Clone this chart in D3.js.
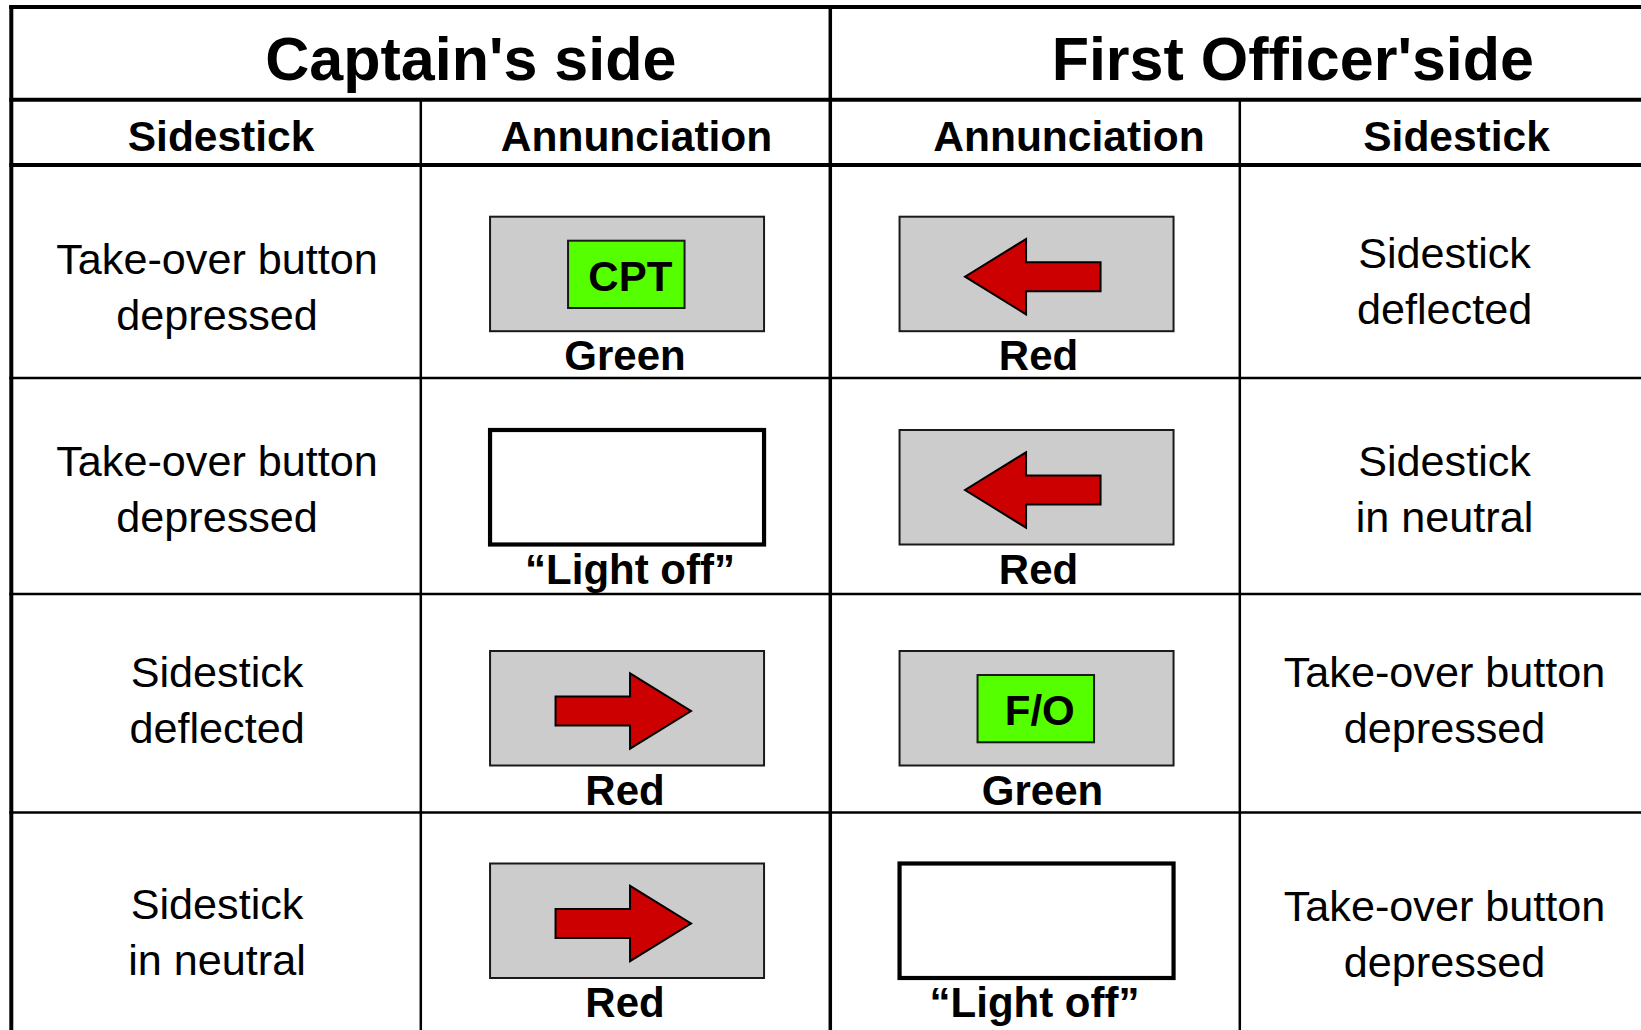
<!DOCTYPE html>
<html><head><meta charset="utf-8">
<script src="https://cdn.jsdelivr.net/npm/d3@7"></script>
<style>html,body{margin:0;padding:0;background:#fff;overflow:hidden}</style>
</head><body><svg id="c" width="1641" height="1030"></svg>
<script>
// ---- data ----
const sides = ["Captain's side", "First Officer'side"];
const columnHeaders = ["Sidestick", "Annunciation", "Annunciation", "Sidestick"];
const captainSidestick = [["Take-over button", "depressed"], ["Take-over button", "depressed"], ["Sidestick", "deflected"], ["Sidestick", "in neutral"]];
const captainLight = ["CPT", "off", "right", "right"];
const captainLabel = ["Green", "\u201CLight off\u201D", "Red", "Red"];
const foLight = ["left", "left", "F/O", "off"];
const foLabel = ["Red", "Red", "Green", "\u201CLight off\u201D"];
const foSidestick = [["Sidestick", "deflected"], ["Sidestick", "in neutral"], ["Take-over button", "depressed"], ["Take-over button", "depressed"]];

// ---- layout ----
const W = 1641, H = 1030;
const FONT = "'Liberation Sans', Arial, Helvetica, sans-serif";
const svg = d3.select("#c");
const x = d3.scaleLinear().domain([0, 4]).range([11.3, 1649.3]);
const yRow = d3.scaleLinear().domain([0, 1, 2, 3, 4]).range([165, 378, 594, 812.5, 1030]);
const yPanel = d3.scaleLinear().domain([0, 1, 2, 3]).range([216.7, 430, 651, 863.5]);
const yTextL = d3.scaleLinear().domain([0, 1, 2, 3]).range([274, 476, 687, 919]);
const yTextR = d3.scaleLinear().domain([0, 1, 2, 3]).range([268, 476, 687, 921]);
const lineGap = 55.5;
const PW = 274, PH = 114.5;
const labelDxCpt = [-2, 3, -2, -2];
const labelDxFo = [2, 2, 6, -2];

// ---- grid lines ----
const g = svg.append("g");
function hline(y, w, x1 = 9.3, x2 = W) {
  g.append("line").attr("x1", x1).attr("x2", x2).attr("y1", y).attr("y2", y)
    .attr("stroke", "#000").attr("stroke-width", w);
}
function vline(xx, w, y1, y2 = H) {
  g.append("line").attr("x1", xx).attr("x2", xx).attr("y1", y1).attr("y2", y2)
    .attr("stroke", "#000").attr("stroke-width", w);
}
hline(7, 4); hline(99.7, 4); hline(yRow(0), 4);
[1, 2, 3].forEach(i => hline(yRow(i), 2.5));
vline(x(0), 4, 5);
vline(x(2), 3.5, 5);
vline(x(1), 2.5, 99.7);
vline(x(3), 2.5, 99.7);

// ---- titles ----
const titleDx = 50;
sides.forEach((s, i) => {
  svg.append("text").attr("x", (x(i * 2) + x(i * 2 + 2)) / 2 + titleDx + (i ? 3 : 0)).attr("y", 80)
    .attr("text-anchor", "middle").attr("font-family", FONT).attr("font-weight", "bold")
    .attr("font-size", 61).text(s);
});
const headerDx = [5, 11, 34, 12];
columnHeaders.forEach((h, i) => {
  svg.append("text").attr("x", x(i + 0.5) + headerDx[i]).attr("y", 151)
    .attr("text-anchor", "middle").attr("font-family", FONT).attr("font-weight", "bold")
    .attr("font-size", 42.5).text(h);
});

// ---- sidestick descriptions ----
function lines(arr, col, yScale) {
  arr.forEach((pair, r) => {
    pair.forEach((t, k) => {
      svg.append("text").attr("x", x(col + 0.5) + (col === 0 ? 1 : 0)).attr("y", yScale(r) + k * lineGap)
        .attr("text-anchor", "middle").attr("font-family", FONT).attr("font-size", 43.2)
        .attr("fill", "#000").text(t);
    });
  });
}
lines(captainSidestick, 0, yTextL);
lines(foSidestick, 3, yTextR);

// ---- annunciator panels ----
function arrowPath(px, py, dir) {
  const a0 = px + 65.5, a1 = px + 201, head = 61, cy = py + 60, hh = 37.7, sh = 14.5;
  const p = d3.path();
  if (dir === "right") {
    const hb = a1 - head;
    p.moveTo(a0, cy - sh); p.lineTo(hb, cy - sh); p.lineTo(hb, cy - hh); p.lineTo(a1, cy);
    p.lineTo(hb, cy + hh); p.lineTo(hb, cy + sh); p.lineTo(a0, cy + sh); p.closePath();
  } else {
    const hb = a0 + head;
    p.moveTo(a1, cy - sh); p.lineTo(hb, cy - sh); p.lineTo(hb, cy - hh); p.lineTo(a0, cy);
    p.lineTo(hb, cy + hh); p.lineTo(hb, cy + sh); p.lineTo(a1, cy + sh); p.closePath();
  }
  return p.toString();
}
function panels(kinds, labels, col, dxs) {
  kinds.forEach((k, r) => {
    const px = x(col + 0.5) - 135.5, py = yPanel(r);
    const cx = px + PW / 2;
    if (k === "off") {
      svg.append("rect").attr("x", px).attr("y", py).attr("width", PW).attr("height", PH)
        .attr("fill", "#fff").attr("stroke", "#000").attr("stroke-width", 4.2);
    } else {
      svg.append("rect").attr("x", px).attr("y", py).attr("width", PW).attr("height", PH)
        .attr("fill", "#cccccc").attr("stroke", "#1a1a1a").attr("stroke-width", 2);
      if (k === "left" || k === "right") {
        svg.append("path").attr("d", arrowPath(px, py, k))
          .attr("fill", "#cc0000").attr("stroke", "#000").attr("stroke-width", 2)
          .attr("stroke-linejoin", "miter");
      } else {
        svg.append("rect").attr("x", px + 78).attr("y", py + 24).attr("width", 116.5).attr("height", 67.3)
          .attr("fill", "#55ff00").attr("stroke", "#1a1a1a").attr("stroke-width", 2);
        svg.append("text").attr("x", px + 78 + 116.5 / 2 + 4).attr("y", py + 24 + 50)
          .attr("text-anchor", "middle").attr("font-family", FONT).attr("font-weight", "bold")
          .attr("font-size", 42).text(k);
      }
    }
    svg.append("text").attr("x", cx + dxs[r]).attr("y", py + PH + 39)
      .attr("text-anchor", "middle").attr("font-family", FONT).attr("font-weight", "bold")
      .attr("font-size", 42).text(labels[r]);
  });
}
panels(captainLight, captainLabel, 1, labelDxCpt);
panels(foLight, foLabel, 2, labelDxFo);
</script>
</body></html>
